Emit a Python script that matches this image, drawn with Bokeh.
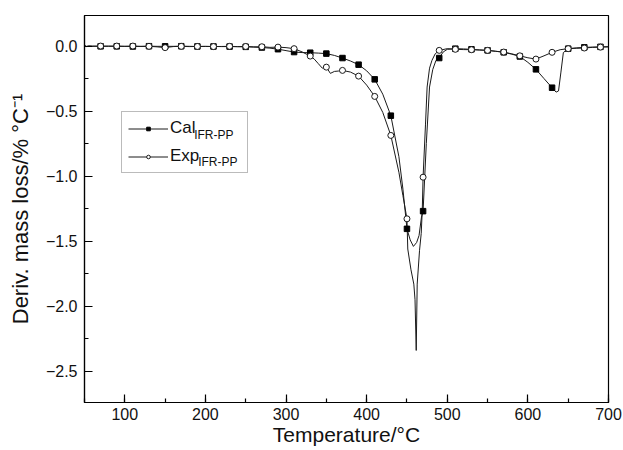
from bokeh.plotting import figure
from bokeh.models import (Range1d, SingleIntervalTicker, CustomJSTickFormatter,
                          Legend, LegendItem, Label)
from bokeh.embed import file_html
from bokeh.resources import INLINE

# ---- data ----
cal_T = [50, 60, 70, 80, 90, 100, 110, 120, 130, 140, 150, 160, 170, 180, 190, 200,
         210, 220, 230, 240, 250, 260, 270, 280, 290, 300, 310, 320, 330, 340, 350,
         360, 370, 380, 390, 400, 410, 420, 430, 440, 445, 450, 454, 458, 462, 465,
         468, 470, 474, 478, 482, 486, 490, 495, 500, 510, 520, 530, 540, 550, 560,
         570, 580, 590, 600, 610, 620, 630, 635, 638, 641, 644, 650, 660, 670, 680,
         690, 700]
cal_v = [-0.002, -0.002, -0.002, -0.002, -0.002, -0.002, -0.003, -0.002, -0.001, -0.002,
         -0.002, -0.002, -0.001, -0.002, -0.003, -0.003, -0.003, -0.004, -0.004, -0.005,
         -0.006, -0.008, -0.011, -0.016, -0.024, -0.035, -0.046, -0.050, -0.051, -0.054,
         -0.058, -0.072, -0.092, -0.115, -0.143, -0.190, -0.256, -0.370, -0.535, -0.850,
         -1.100, -1.405, -1.490, -1.540, -1.510, -1.456, -1.315, -1.269, -0.750, -0.315,
         -0.180, -0.110, -0.092, -0.045, -0.025, -0.020, -0.022, -0.025, -0.030, -0.033,
         -0.040, -0.048, -0.062, -0.080, -0.125, -0.179, -0.250, -0.320, -0.354, -0.345,
         -0.200, -0.050, -0.020, -0.014, -0.010, -0.008, -0.006, -0.005]

exp_T = [50, 52, 55, 60, 70, 80, 90, 100, 110, 120, 130, 140, 150, 160, 170, 180, 190,
         200, 210, 220, 230, 240, 250, 260, 270, 280, 290, 300, 310, 320, 330, 335, 340,
         345, 350, 355, 360, 365, 370, 380, 390, 400, 410, 420, 430, 440, 445, 450, 451,
         455, 458.5, 460, 461.5, 462.7, 465.6, 467.7, 469, 470, 473, 475, 478, 481, 485,
         490, 500, 510, 520, 530, 540, 550, 560, 570, 580, 590, 600, 610, 620, 630, 640,
         650, 660, 670, 680, 690, 700]
exp_v = [0.012, -0.005, 0.002, 0.0, 0.0, 0.0, 0.0, -0.002, 0.0, -0.003, -0.002, -0.006,
         -0.012, -0.004, -0.002, -0.004, -0.003, -0.002, -0.004, -0.003, -0.002, -0.004,
         -0.003, -0.006, -0.005, -0.010, -0.008, -0.012, -0.020, -0.045, -0.077, -0.100,
         -0.135, -0.170, -0.162, -0.210, -0.195, -0.192, -0.187, -0.200, -0.231, -0.300,
         -0.387, -0.510, -0.687, -0.970, -1.150, -1.328, -1.560, -1.720, -1.830, -1.950,
         -2.340, -1.830, -1.570, -1.440, -1.260, -1.008, -0.600, -0.315, -0.170, -0.110,
         -0.060, -0.033, -0.020, -0.025, -0.027, -0.028, -0.030, -0.033, -0.040, -0.046,
         -0.060, -0.075, -0.090, -0.100, -0.075, -0.048, -0.028, -0.020, -0.017, -0.015,
         -0.010, -0.008, -0.006]

mk_T = [70, 90, 110, 130, 150, 170, 190, 210, 230, 250, 270, 290, 310, 330, 350, 370,
        390, 410, 430, 450, 470, 490, 510, 530, 550, 570, 590, 610, 630, 650, 670, 690]
cal_mk = [-0.002, -0.002, -0.003, -0.001, -0.002, -0.001, -0.003, -0.003, -0.004, -0.006,
          -0.011, -0.024, -0.046, -0.051, -0.058, -0.092, -0.143, -0.256, -0.535, -1.405,
          -1.269, -0.092, -0.020, -0.025, -0.033, -0.048, -0.080, -0.179, -0.320, -0.020,
          -0.010, -0.006]
exp_mk = [0.0, 0.0, 0.0, -0.002, -0.012, -0.002, -0.003, -0.004, -0.002, -0.003, -0.005,
          -0.008, -0.020, -0.077, -0.162, -0.187, -0.231, -0.387, -0.687, -1.328, -1.008,
          -0.033, -0.025, -0.028, -0.033, -0.046, -0.075, -0.100, -0.048, -0.020, -0.015,
          -0.008]

series_names = ["Cal", "Exp"]
subscript = "IFR-PP"
x_title = "Temperature/°C"
y_title = "Deriv. mass loss/% °C⁻¹"

FONT = "Liberation Sans"
INK = "#1a1a1a"
TXT = "#111111"

p = figure(width=623, height=450, output_backend="svg", toolbar_location=None,
           x_range=Range1d(50, 700), y_range=Range1d(-2.74, 0.235),
           min_border_left=84, min_border_right=15, min_border_top=15,
           min_border_bottom=48)
p.background_fill_color = "white"
p.border_fill_color = "white"
p.outline_line_color = "black"
p.outline_line_width = 1.2
p.xgrid.visible = False
p.ygrid.visible = False

cal_line = p.line(cal_T, cal_v, line_color=INK, line_width=1)
exp_line = p.line(exp_T, exp_v, line_color=INK, line_width=1)
cal_pts = p.scatter(mk_T, cal_mk, marker="square", size=5.5, fill_color="black",
                    line_color="black", line_width=1)
exp_pts = p.scatter(mk_T, exp_mk, marker="circle", size=6, fill_color="white",
                    line_color=INK, line_width=1)

p.xaxis.ticker = SingleIntervalTicker(interval=100, num_minor_ticks=2)
p.yaxis.ticker = SingleIntervalTicker(interval=0.5, num_minor_ticks=2)
p.yaxis.formatter = CustomJSTickFormatter(code="return tick.toFixed(1).replace('-', '\u2212');")

for ax in (p.xaxis, p.yaxis):
    ax.major_tick_in = 8
    ax.major_tick_out = 0
    ax.minor_tick_in = 4
    ax.minor_tick_out = 0
    ax.axis_line_width = 1.2
    ax.axis_line_color = "black"
    ax.major_tick_line_color = "black"
    ax.minor_tick_line_color = "black"
    ax.major_tick_line_width = 1.2
    ax.minor_tick_line_width = 1.2
    ax.major_label_text_font = FONT
    ax.major_label_text_font_size = "16px"
    ax.major_label_text_color = TXT
    ax.axis_label_text_font = FONT
    ax.axis_label_text_font_style = "normal"
    ax.axis_label_text_color = TXT

p.xaxis.axis_label = x_title
p.xaxis.axis_label_text_font_size = "21px"
p.xaxis.major_label_standoff = 5
p.xaxis.axis_label_standoff = 0

p.yaxis.axis_label = y_title
p.yaxis.axis_label_text_font_size = "22px"
p.yaxis.major_label_standoff = 7
p.yaxis.axis_label_standoff = 10

legend = Legend(items=[LegendItem(label=series_names[0], renderers=[cal_line, cal_pts]),
                       LegendItem(label=series_names[1], renderers=[exp_line, exp_pts])],
                location=(37, 229), glyph_width=40, glyph_height=9, label_standoff=2,
                label_width=71, padding=6, spacing=8, margin=0,
                label_text_font=FONT, label_text_font_size="17px",
                label_text_color=TXT,
                border_line_color="#777777", border_line_width=1,
                background_fill_alpha=0)
p.add_layout(legend)

# subscripts of the legend labels
for xs, ys in ((186, -0.68), (191, -0.895)):
    p.add_layout(Label(x=xs, y=ys, text=subscript, text_font=FONT, text_font_size="12px",
                       text_baseline="middle", text_color=TXT))

open("out.html", "w").write(file_html(p, INLINE))
